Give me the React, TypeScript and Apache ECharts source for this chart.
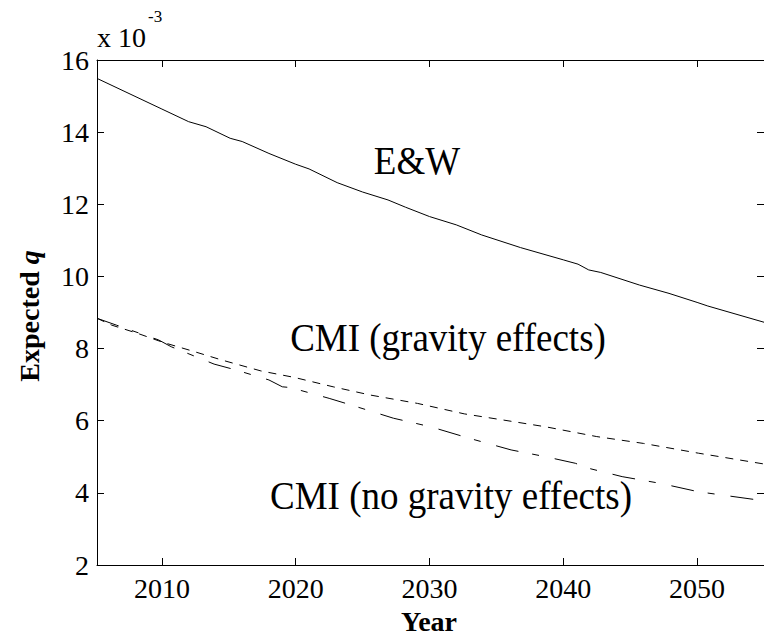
import React, { useEffect, useRef } from "react";
import * as echarts from "echarts";

const xTickValues = [2010, 2020, 2030, 2040, 2050];
const yTickMin = 2;
const yTickMax = 16;
const xMin = 2005.15;
const xMax = 2055;

const ewYears = [2005.15, 2010, 2012, 2013.3, 2015.1, 2016, 2018, 2020, 2021, 2023.1, 2025, 2026.9, 2028.2, 2030, 2032, 2033.9, 2036.8, 2040, 2041.1, 2041.9, 2042.8, 2045.7, 2047.9, 2050, 2050.8, 2055];
const ewValues = [15.49, 14.64, 14.29, 14.15, 13.83, 13.74, 13.41, 13.11, 12.98, 12.6, 12.34, 12.12, 11.92, 11.66, 11.43, 11.15, 10.8, 10.46, 10.34, 10.18, 10.11, 9.76, 9.53, 9.28, 9.18, 8.73];

const gravYears = [2005.15, 2006.25, 2008.2, 2010.1, 2012.3, 2014.5, 2017.4, 2019.9, 2022.8, 2025.6, 2029.1, 2032.6, 2035.5, 2038.7, 2042.5, 2046, 2050.1, 2055];
const gravValues = [8.84, 8.65, 8.42, 8.17, 7.93, 7.68, 7.38, 7.2, 6.94, 6.71, 6.48, 6.19, 6.02, 5.83, 5.56, 5.37, 5.1, 4.8];

const noGravYears = [2005.15, 2006.6, 2009.75, 2010.7, 2013.9, 2015.5, 2018, 2019, 2019.6, 2022.5, 2024.1, 2027.3, 2030.1, 2033, 2036.1, 2038.7, 2040.9, 2041.9, 2044.4, 2047.3, 2050.1, 2055];
const noGravValues = [8.84, 8.65, 8.24, 8.05, 7.57, 7.41, 7.13, 6.94, 6.92, 6.62, 6.44, 6.07, 5.83, 5.51, 5.19, 5.0, 4.82, 4.68, 4.45, 4.26, 4.03, 3.78];

const labelEW = "E&W";
const labelGrav = "CMI (gravity effects)";
const labelNoGrav = "CMI (no gravity effects)";

const FONT = "'Liberation Serif', 'Times New Roman', serif";

function zip(xs: number[], ys: number[]) {
  return xs.map((x, i) => [x, ys[i]]);
}

export default function App() {
  const ref = useRef<HTMLDivElement>(null);
  useEffect(() => {
    if (!ref.current) return;
    const chart = echarts.init(ref.current, null, { renderer: "svg" });
    const axisLine = { show: true, lineStyle: { color: "#000", width: 1 } };
    const tickStyle = { color: "#000", width: 1 };
    const labelStyle = { fontFamily: FONT, fontSize: 28, color: "#000" };
    const line = (name: string, data: number[][], type: any) => ({
      name,
      type: "line",
      data,
      showSymbol: false,
      symbol: "none",
      xAxisIndex: 0,
      yAxisIndex: 0,
      lineStyle: { color: "#000", width: 1, type },
      z: 3,
    });
    chart.setOption({
      animation: false,
      backgroundColor: "#fff",
      grid: { left: 97, top: 60, width: 669, height: 505, containLabel: false },
      xAxis: [
        {
          type: "value",
          min: xMin,
          max: xMax,
          position: "bottom",
          axisLine,
          axisTick: { show: true, inside: true, length: 7, customValues: xTickValues, lineStyle: tickStyle },
          axisLabel: { ...labelStyle, margin: 9, customValues: xTickValues, formatter: (v: number) => String(v) },
          splitLine: { show: false },
        },
        {
          type: "value",
          min: xMin,
          max: xMax,
          position: "top",
          axisLine,
          axisTick: { show: true, inside: true, length: 7, customValues: xTickValues, lineStyle: tickStyle },
          axisLabel: { show: false },
          splitLine: { show: false },
        },
      ],
      yAxis: [
        {
          type: "value",
          min: yTickMin,
          max: yTickMax,
          interval: 2,
          position: "left",
          axisLine,
          axisTick: { show: true, inside: true, length: 7, lineStyle: tickStyle },
          axisLabel: { ...labelStyle, margin: 8 },
          splitLine: { show: false },
        },
        {
          type: "value",
          min: yTickMin,
          max: yTickMax,
          interval: 2,
          position: "right",
          axisLine,
          axisTick: { show: true, inside: true, length: 7, lineStyle: tickStyle },
          axisLabel: { show: false },
          splitLine: { show: false },
        },
      ],
      series: [
        line(labelEW, zip(ewYears, ewValues), "solid"),
        line(labelGrav, zip(gravYears, gravValues), [8, 7]),
        line(labelNoGrav, zip(noGravYears, noGravValues), [23, 14, 7, 16]),
      ],
      graphic: [
        { type: "text", x: 97, y: 37, style: { text: "x 10", font: `28px ${FONT}`, fill: "#000", verticalAlign: "middle", align: "left" } },
        { type: "text", x: 148, y: 16, style: { text: "-3", font: `17px ${FONT}`, fill: "#000", verticalAlign: "middle", align: "left" } },
        {
          type: "text",
          x: 29,
          y: 316,
          rotation: Math.PI / 2,
          style: {
            text: "{a|Expected }{b|q}",
            align: "center",
            verticalAlign: "middle",
            fill: "#000",
            rich: {
              a: { fontFamily: FONT, fontSize: 28, fontWeight: "bold", fill: "#000" },
              b: { fontFamily: FONT, fontSize: 28, fontWeight: "bold", fontStyle: "italic", fill: "#000" },
            },
          },
        },
        { type: "text", x: 429, y: 621, style: { text: "Year", font: `bold 28px ${FONT}`, fill: "#000", align: "center", verticalAlign: "middle" } },
        { type: "text", x: 417, y: 161, scaleY: 1.08, style: { text: labelEW, font: `37px ${FONT}`, fill: "#000", align: "center", verticalAlign: "middle" } },
        { type: "text", x: 448, y: 338, scaleY: 1.08, style: { text: labelGrav, font: `37px ${FONT}`, fill: "#000", align: "center", verticalAlign: "middle" } },
        { type: "text", x: 451, y: 496, scaleY: 1.08, style: { text: labelNoGrav, font: `37px ${FONT}`, fill: "#000", align: "center", verticalAlign: "middle" } },
      ],
    });
    return () => chart.dispose();
  }, []);
  return <div ref={ref} style={{ position: "fixed", left: 0, top: 0, width: 764, height: 637, background: "#fff" }} />;
}
